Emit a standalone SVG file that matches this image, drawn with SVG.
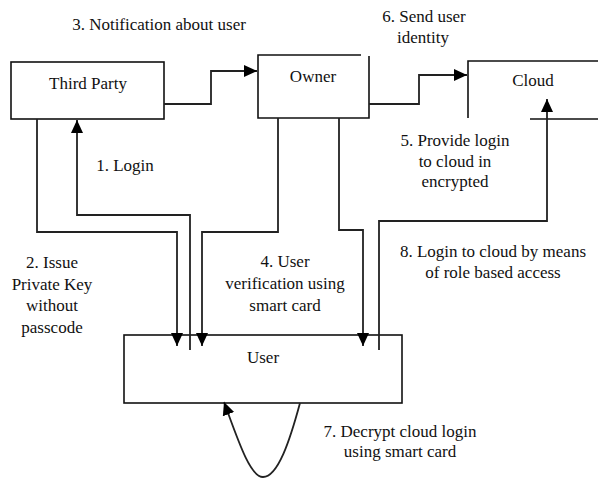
<svg xmlns="http://www.w3.org/2000/svg" width="598" height="478" viewBox="0 0 598 478" font-family="Liberation Serif, Times New Roman, serif">
<defs>
<style>
.box{fill:#fff;stroke:#111;stroke-width:1.6}
.edge{fill:none;stroke:#222;stroke-width:1.8}
text{font-size:17px;fill:#111;text-anchor:middle}
</style>
<marker id="ah" markerUnits="userSpaceOnUse" markerWidth="14" markerHeight="14" viewBox="0 0 14 14" refX="13" refY="7" orient="auto">
<path d="M0,1 L13,7 L0,13 Z" fill="#000"/>
</marker>
</defs>
<rect width="598" height="478" fill="#fff"/>
<g id="third-party">
<rect class="box" x="11" y="62" width="153" height="57"/>
<text x="88" y="89">Third Party</text>
</g>
<g id="owner">
<path class="box" d="M361,55 H258 V118 H369 V56"/>
<text x="313" y="82">Owner</text>
</g>
<g id="cloud">
<path class="box" style="fill:none" d="M468,118 V61 H598 M530,119 H598"/>
<text x="533" y="86">Cloud</text>
</g>
<g id="user">
<rect class="box" x="124" y="335" width="278" height="68"/>
<text x="263" y="363">User</text>
</g>
<g id="connectors">
<path class="edge" d="M164,104 H211 V71 H257" marker-end="url(#ah)"/>
<path class="edge" d="M369,104 H419 V75 H467" marker-end="url(#ah)"/>
<path class="edge" d="M37,119 V232 H177 V346" marker-end="url(#ah)"/>
<path class="edge" d="M190,350 V215 H77 V120" marker-end="url(#ah)"/>
<path class="edge" d="M278,118 V232 H202 V346" marker-end="url(#ah)"/>
<path class="edge" d="M339,118 V230 H363 V346" marker-end="url(#ah)"/>
<path class="edge" d="M379,350 V221 H547 V99" marker-end="url(#ah)"/>
<path class="edge" d="M300,403 C290,440 278,477 263,477 C250,477 238,440 224,402" marker-end="url(#ah)"/>
</g>
<g id="labels">
<text x="159" y="30">3. Notification about user</text>
<text x="424" y="22">6. Send user</text>
<text x="423" y="43">identity</text>
<text x="125" y="171">1. Login</text>
<text x="455" y="146">5. Provide login</text>
<text x="455" y="167">to cloud in</text>
<text x="455" y="187">encrypted</text>
<text x="52" y="268">2. Issue</text>
<text x="52" y="290">Private Key</text>
<text x="52" y="311">without</text>
<text x="52" y="333">passcode</text>
<text x="285" y="267">4. User</text>
<text x="285" y="289">verification using</text>
<text x="285" y="311">smart card</text>
<text x="493" y="257">8. Login to cloud by means</text>
<text x="493" y="278">of role based access</text>
<text x="400" y="437">7. Decrypt cloud login</text>
<text x="400" y="457">using smart card</text>
</g>
</svg>
